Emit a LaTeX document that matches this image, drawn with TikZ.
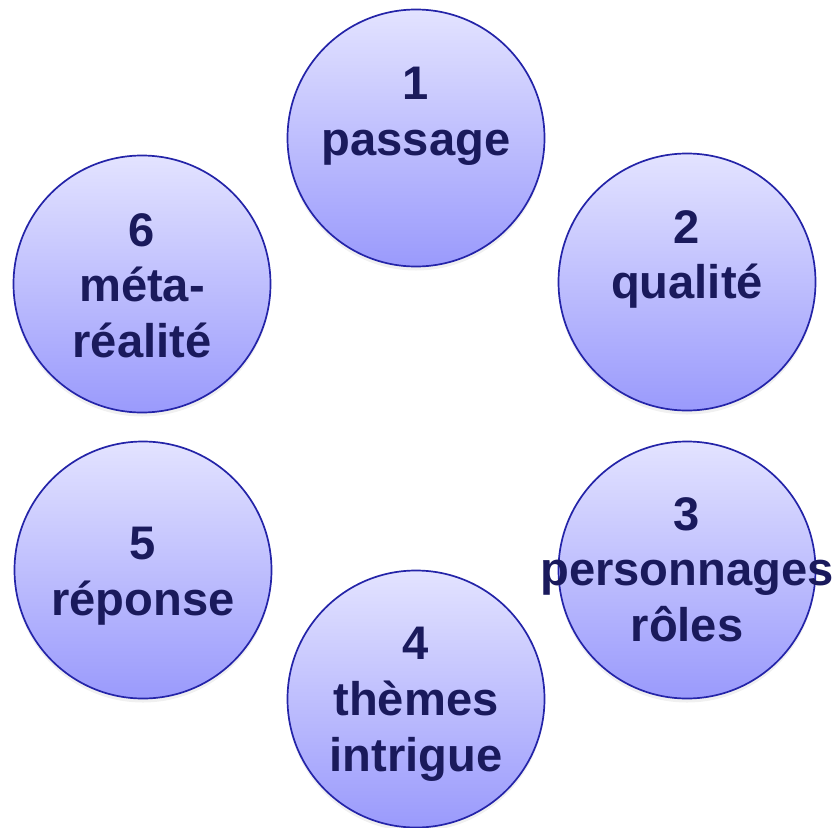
\documentclass[tikz,border=0pt]{standalone}
\usepackage{fontspec}
\setmainfont{Liberation Sans}
\usetikzlibrary{shadows}
\definecolor{ringcol}{HTML}{2424A8}
\definecolor{toplav}{HTML}{E3E3FF}
\definecolor{botlav}{HTML}{9A9AFC}
\definecolor{inkcol}{HTML}{1A1A5C}
\tikzset{
  ball/.style={circle, minimum size=257bp, inner sep=0pt, draw=ringcol, line width=1.7bp,
    top color=toplav, bottom color=botlav,
    drop shadow={opacity=0.12, shadow xshift=0bp, shadow yshift=-4bp}},
  lbl/.style={anchor=north, align=center, inner sep=0pt, text=inkcol,
    font=\fontsize{47.3}{56}\selectfont\bfseries}
}
\begin{document}
\begin{tikzpicture}[x=1bp, y=1bp]
\useasboundingbox (0,0) rectangle (839,-828);
\node[ball] (c1) at (416,-138) {};
\node[ball] (c2) at (687,-282) {};
\node[ball] (c3) at (687,-570) {};
\node[ball] (c4) at (416,-699) {};
\node[ball] (c5) at (143,-570) {};
\node[ball] (c6) at (142,-284) {};
\node[lbl] (t1) at (416,-67) {1\\passage};
\node[lbl] (t2) at (687,-210) {2\\qualité};
\node[lbl] (t3) at (687,-497) {3\\personnages\\rôles};
\node[lbl] (t4) at (416,-627) {4\\thèmes\\intrigue};
\node[lbl] (t5) at (143,-527) {5\\réponse};
\node[lbl] (t6) at (142,-213) {6\\méta-\\réalité};
\end{tikzpicture}
\end{document}
